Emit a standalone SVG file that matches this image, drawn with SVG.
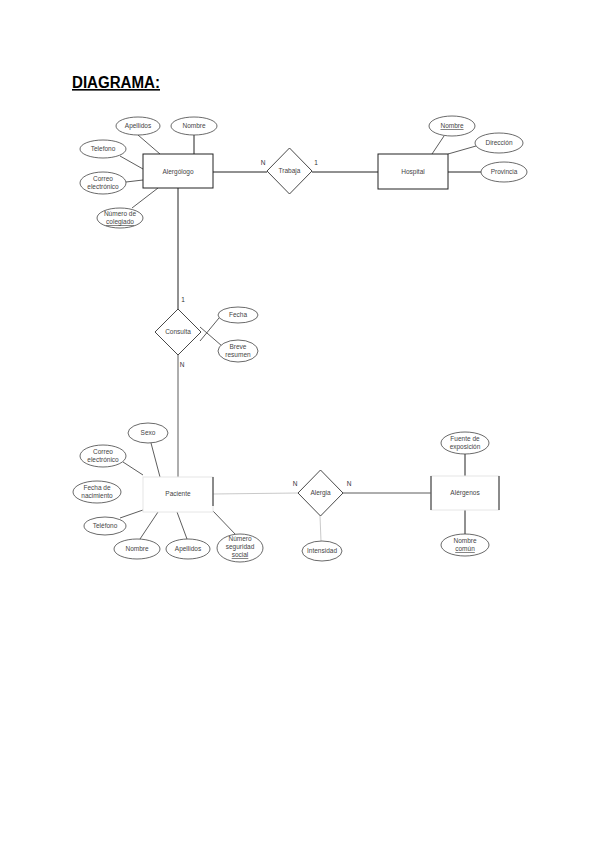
<svg xmlns="http://www.w3.org/2000/svg" width="600" height="848" viewBox="0 0 600 848">
<style>
text{font-family:"Liberation Sans",Arial,sans-serif;font-size:6.5px;fill:#444;text-anchor:middle}
.title{font-size:16px;font-weight:bold;fill:#000;text-anchor:start;text-decoration:underline}
.ell{fill:#fff;stroke:#444;stroke-width:0.8}
.ent{fill:#fff;stroke:#222;stroke-width:1}
.faintent{fill:#fff;stroke:#e6e6e6;stroke-width:1}
.dk{stroke:#222;stroke-width:1;fill:none}
.ln{stroke:#333;stroke-width:0.8;fill:none}
.fl{stroke:#bbb;stroke-width:0.8;fill:none}
.rel{fill:#fff;stroke:#333;stroke-width:0.9}
.u{text-decoration:underline}
.card{font-size:6.5px;fill:#333}
</style>
<rect width="600" height="848" fill="#fff"/>
<text class="title" x="72" y="88" textLength="88" lengthAdjust="spacingAndGlyphs">DIAGRAMA:</text>

<g id="connectors">
<line class="ln" x1="138" y1="135" x2="160" y2="154"/>
<line class="dk" x1="194" y1="135" x2="194" y2="154"/>
<line class="ln" x1="120" y1="156" x2="143" y2="169"/>
<line class="ln" x1="126" y1="182" x2="143" y2="180"/>
<line class="ln" x1="132" y1="208" x2="158" y2="188"/>
<line class="dk" x1="213" y1="172" x2="267" y2="172"/>
<line class="dk" x1="312" y1="172" x2="378" y2="172"/>
<line class="ln" x1="444" y1="136" x2="432" y2="154"/>
<line class="ln" x1="476" y1="146" x2="448" y2="154"/>
<line class="dk" x1="448" y1="172" x2="481" y2="172"/>
<line class="dk" x1="178" y1="188" x2="178" y2="309"/>
<line class="ln" x1="200" y1="341" x2="219" y2="318"/>
<line class="ln" x1="200" y1="327" x2="222" y2="346"/>
<line class="ln" x1="178" y1="355" x2="178" y2="477"/>
<line class="ln" x1="151" y1="443" x2="160" y2="477"/>
<line class="ln" x1="123" y1="462" x2="143" y2="475"/>
<line class="ln" x1="120" y1="518" x2="143" y2="510"/>
<line class="ln" x1="140" y1="539" x2="158" y2="512"/>
<line class="ln" x1="187" y1="539" x2="177" y2="512"/>
<line class="ln" x1="213" y1="511" x2="236" y2="535"/>
<line class="fl" x1="213" y1="494" x2="298" y2="493"/>
<line class="ln" x1="343" y1="493" x2="431" y2="493" stroke="#777"/>
<line class="fl" x1="320" y1="516" x2="321" y2="541"/>
<line class="dk" x1="465" y1="454" x2="465" y2="476"/>
<line class="dk" x1="465" y1="510" x2="465" y2="534"/>
</g>

<g id="alergologo"><rect class="ent" x="143" y="154" width="70" height="34"/><text x="178" y="174">Alergólogo</text></g>
<g id="alergologo-apellidos"><ellipse class="ell" cx="138" cy="126" rx="22" ry="9"/><text x="138" y="128">Apellidos</text></g>
<g id="alergologo-nombre"><ellipse class="ell" cx="194" cy="126" rx="23" ry="9"/><text x="194" y="128">Nombre</text></g>
<g id="alergologo-telefono"><ellipse class="ell" cx="103" cy="149" rx="23" ry="9"/><text x="103" y="151">Telefono</text></g>
<g id="alergologo-correo"><ellipse class="ell" cx="103" cy="183" rx="23" ry="11"/><text x="103" y="181">Correo</text><text x="103" y="189">electrónico</text></g>
<g id="alergologo-colegiado"><ellipse class="ell" cx="120" cy="218" rx="23" ry="10"/><text x="120" y="216">Número de</text><text class="u" x="120" y="224">colegiado</text></g>

<g id="trabaja"><polygon class="rel" points="289.5,148 312,171 289.5,194 267,171"/><text x="289.5" y="173">Trabaja</text>
<text class="card" x="263" y="165">N</text><text class="card" x="316" y="165">1</text></g>

<g id="hospital"><rect class="ent" x="378" y="154" width="70" height="35"/><text x="413" y="174">Hospital</text></g>
<g id="hospital-nombre"><ellipse class="ell" cx="452" cy="126" rx="23" ry="10"/><text class="u" x="452" y="128">Nombre</text></g>
<g id="hospital-direccion"><ellipse class="ell" cx="499" cy="143" rx="24" ry="10"/><text x="499" y="145">Dirección</text></g>
<g id="hospital-provincia"><ellipse class="ell" cx="504" cy="172" rx="23" ry="10"/><text x="504" y="174">Provincia</text></g>

<g id="consulta"><polygon class="rel" points="178,309 201,332 178,355 155,332"/><text x="178" y="334">Consulta</text>
<text class="card" x="183" y="302">1</text><text class="card" x="182" y="367">N</text></g>
<g id="consulta-fecha"><ellipse class="ell" cx="238" cy="315" rx="20" ry="8"/><text x="238" y="317">Fecha</text></g>
<g id="consulta-resumen"><ellipse class="ell" cx="238" cy="351" rx="20" ry="11"/><text x="238" y="349">Breve</text><text x="238" y="357">resumen</text></g>

<g id="paciente"><rect class="faintent" x="143" y="477" width="70" height="35"/><line class="dk" x1="213" y1="477" x2="213" y2="506"/><text x="178" y="496">Paciente</text></g>
<g id="paciente-sexo"><ellipse class="ell" cx="148" cy="433" rx="20" ry="10"/><text x="148" y="435">Sexo</text></g>
<g id="paciente-correo"><ellipse class="ell" cx="103" cy="456" rx="23" ry="11"/><text x="103" y="454">Correo</text><text x="103" y="462">electrónico</text></g>
<g id="paciente-nacimiento"><ellipse class="ell" cx="97" cy="492" rx="24" ry="11"/><text x="97" y="490">Fecha de</text><text x="97" y="498">nacimiento</text></g>
<g id="paciente-telefono"><ellipse class="ell" cx="105" cy="526" rx="21" ry="9"/><text x="105" y="528">Teléfono</text></g>
<g id="paciente-nombre"><ellipse class="ell" cx="137" cy="549" rx="23" ry="10"/><text x="137" y="551">Nombre</text></g>
<g id="paciente-apellidos"><ellipse class="ell" cx="188" cy="549" rx="22" ry="10"/><text x="188" y="551">Apellidos</text></g>
<g id="paciente-nss"><ellipse class="ell" cx="240" cy="548" rx="23" ry="14"/><text x="240" y="541">Número</text><text x="240" y="549">seguridad</text><text class="u" x="240" y="557">social</text></g>

<g id="alergia"><polygon class="rel" points="320.5,470 343,493 320.5,516 298,493"/><text x="320.5" y="495">Alergia</text>
<text class="card" x="295" y="486">N</text><text class="card" x="349" y="486">N</text></g>
<g id="alergia-intensidad"><ellipse class="ell" cx="322" cy="551" rx="20" ry="10"/><text x="322" y="553">Intensidad</text></g>

<g id="alergenos"><rect class="faintent" x="431" y="476" width="68" height="34"/><line class="dk" x1="431" y1="476" x2="431" y2="510"/><line class="dk" x1="499" y1="476" x2="499" y2="510"/><text x="465" y="495">Alérgenos</text></g>
<g id="alergenos-fuente"><ellipse class="ell" cx="465" cy="443" rx="24" ry="11"/><text x="465" y="441">Fuente de</text><text x="465" y="449">exposición</text></g>
<g id="alergenos-nombre"><ellipse class="ell" cx="465" cy="545" rx="24" ry="11"/><text x="465" y="543">Nombre</text><text class="u" x="465" y="551">común</text></g>
</svg>
